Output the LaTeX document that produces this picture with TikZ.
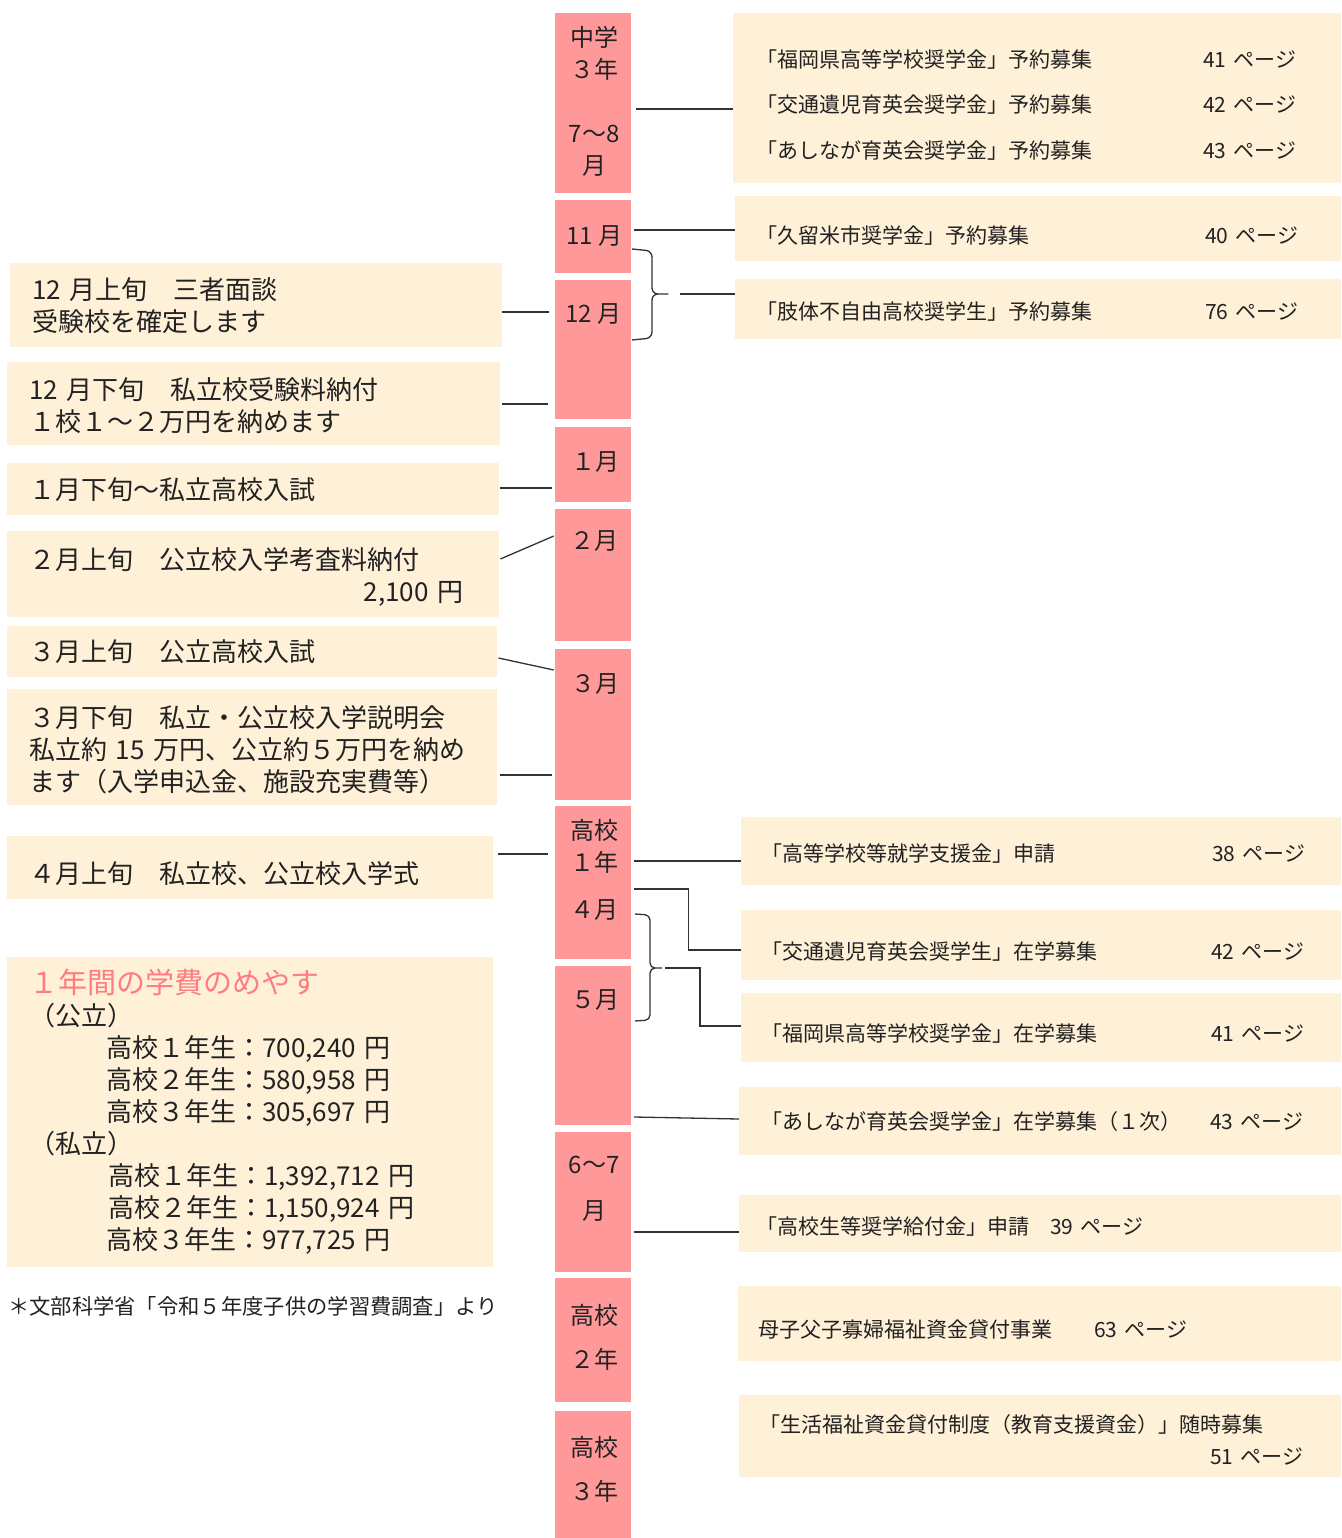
\documentclass[tikz,border=0pt]{standalone}
\usepackage{fontspec}
\setmainfont{Noto Sans CJK JP}
\definecolor{segpink}{RGB}{255,153,153}
\definecolor{boxcream}{RGB}{255,240,216}
\definecolor{headpink}{RGB}{255,124,128}
\definecolor{inkgray}{RGB}{34,34,34}
\tikzset{
  monthseg/.style={fill=segpink, minimum width=76pt, anchor=north, inner sep=0pt},
  monthtxt/.style={align=center, inner sep=0pt, text=inkgray, font=\fontsize{24}{32}\selectfont},
  leftbox/.style={fill=boxcream, anchor=north west, align=left, inner xsep=22pt, inner ysep=0pt,
    text=inkgray, font=\fontsize{26}{32}\selectfont},
  rightbox/.style={fill=boxcream, anchor=north west, align=left, inner xsep=20pt, inner ysep=0pt,
    text=inkgray, font=\fontsize{21}{32}\selectfont},
  link/.style={line width=1.3pt, black!80},
}
\begin{document}
\begin{tikzpicture}[x=1pt, y=-1pt]
    \useasboundingbox (0,0) rectangle (1341,1538);
    % timeline column
    \node[monthseg, minimum height=180pt] (m1) at (593,13) {};
    \node[monthseg, minimum height=73pt] (m2) at (593,200) {};
    \node[monthseg, minimum height=139pt] (m3) at (593,280) {};
    \node[monthseg, minimum height=75pt] (m4) at (593,427) {};
    \node[monthseg, minimum height=132pt] (m5) at (593,509) {};
    \node[monthseg, minimum height=151pt] (m6) at (593,649) {};
    \node[monthseg, minimum height=153pt] (m7) at (593,806) {};
    \node[monthseg, minimum height=159pt] (m8) at (593,966) {};
    \node[monthseg, minimum height=140pt] (m9) at (593,1132) {};
    \node[monthseg, minimum height=124pt] (m10) at (593,1278) {};
    \node[monthseg, minimum height=140pt] (m11) at (593,1411) {};
    \node[monthtxt] (t1) at (594,101) {中学\\３年\\[32pt]7〜8\\月};
    \node[monthtxt] (t2) at (594,236) {11 月};
    \node[monthtxt] (t3) at (593,314) {12 月};
    \node[monthtxt] (t4) at (595,462) {１月};
    \node[monthtxt] (t5) at (594,541) {２月};
    \node[monthtxt] (t6) at (595,684) {３月};
    \node[monthtxt] (t7) at (594,870) {高校\\１年\\[15pt]４月};
    \node[monthtxt] (t8) at (595,1000) {５月};
    \node[monthtxt] (t9) at (594,1189) {6〜7\\[14pt]月};
    \node[monthtxt] (t10) at (594,1337) {高校\\[12pt]２年};
    \node[monthtxt] (t11) at (594,1469) {高校\\[12pt]３年};
    % events on the left
    \node[leftbox, minimum height=84pt, text width=448pt] (l1) at (10,263)
        {12 月上旬　三者面談\\受験校を確定します};
    \node[leftbox, minimum height=83pt, text width=449pt, text height=26pt] (l2) at (7,362)
        {12 月下旬　私立校受験料納付\\１校１～２万円を納めます};
    \node[leftbox, minimum height=52pt, text width=448pt] (l3) at (7,463)
        {１月下旬～私立高校入試};
    \node[leftbox, minimum height=86pt, text width=448pt, text height=28pt] (l4) at (7,531)
        {２月上旬　公立校入学考査料納付\\\hspace*{\fill}2,100 円\hspace*{14pt}};
    \node[leftbox, minimum height=51pt, text width=446pt] (l5) at (7,626)
        {３月上旬　公立高校入試};
    \node[leftbox, minimum height=116pt, text width=446pt, text height=28pt] (l6) at (7,689)
        {３月下旬　私立・公立校入学説明会\\私立約 15 万円、公立約５万円を納め\\ます（入学申込金、施設充実費等）};
    \node[leftbox, minimum height=63pt, text width=442pt, text height=34pt] (l7) at (7,836)
        {４月上旬　私立校、公立校入学式};
    \node[leftbox, minimum height=310pt, text width=442pt] (l8) at (7,957)
        {\textcolor{headpink}{\fontsize{29}{32}\selectfont １年間の学費のめやす}\\
         （公立）\\
         \hspace*{77pt}高校１年生：700,240 円\\
         \hspace*{77pt}高校２年生：580,958 円\\
         \hspace*{77pt}高校３年生：305,697 円\\
         （私立）\\
         \hspace*{79pt}高校１年生：1,392,712 円\\
         \hspace*{79pt}高校２年生：1,150,924 円\\
         \hspace*{77pt}高校３年生：977,725 円};
    \node[anchor=west, inner sep=0pt, text=inkgray, font=\fontsize{21.3}{21}\selectfont] (note) at (8,1306)
        {＊文部科学省「令和５年度子供の学習費調査」より};
    % support schemes on the right
    \node[rightbox, minimum height=170pt, inner xsep=23pt, text width=562pt, text height=31pt,
        font=\fontsize{21}{45.5}\selectfont] (r1) at (733,13)
        {\makebox[447pt][l]{「福岡県高等学校奨学金」予約募集}41 ページ\\
         \makebox[447pt][l]{「交通遺児育英会奨学金」予約募集}42 ページ\\
         \makebox[447pt][l]{「あしなが育英会奨学金」予約募集}43 ページ};
    \node[rightbox, minimum height=65pt, inner xsep=21pt, text width=564pt, text height=32pt] (r2) at (735,196)
        {\makebox[449pt][l]{「久留米市奨学金」予約募集}40 ページ};
    \node[rightbox, minimum height=60pt, inner xsep=21pt, text width=564pt, text height=22pt] (r3) at (735,279)
        {\makebox[449pt][l]{「肢体不自由高校奨学生」予約募集}76 ページ};
    \node[rightbox, minimum height=68pt, text width=560pt, text height=22pt] (r4) at (741,817)
        {\makebox[451pt][l]{「高等学校等就学支援金」申請}38 ページ};
    \node[rightbox, minimum height=70pt, text width=560pt, text height=30pt] (r5) at (741,910)
        {\makebox[450pt][l]{「交通遺児育英会奨学生」在学募集}42 ページ};
    \node[rightbox, minimum height=69pt, text width=560pt, text height=30pt] (r6) at (741,993)
        {\makebox[450pt][l]{「福岡県高等学校奨学金」在学募集}41 ページ};
    \node[rightbox, minimum height=68pt, inner xsep=22pt, text width=558pt] (r7) at (739,1087)
        {\makebox[449pt][l]{「あしなが育英会奨学金」在学募集（１次）}43 ページ};
    \node[rightbox, minimum height=57pt, inner xsep=17pt, text width=568pt, text height=24pt] (r8) at (739,1195)
        {「高校生等奨学給付金」申請　39 ページ};
    \node[rightbox, minimum height=75pt, text width=563pt, text height=30pt] (r9) at (738,1286)
        {母子父子寡婦福祉資金貸付事業　　63 ページ};
    \node[rightbox, minimum height=82pt, text width=562pt, text height=26pt] (r10) at (739,1395)
        {「生活福祉資金貸付制度（教育支援資金）」随時募集\\\hspace*{451pt}51 ページ};
    % connectors, left side
    \draw[link] (l1.east |- 0,312) -- ([xshift=-6pt]m3.west |- 0,312);
    \draw[link] ([xshift=2pt]l2.east |- 0,404) -- ([xshift=-7pt]m3.west |- 0,404);
    \draw[link] ([xshift=1pt]l3.east |- 0,488) -- ([xshift=-3pt]m4.west |- 0,488);
    \draw[link] ([xshift=1pt]l4.east |- 0,559) -- ([xshift=-1pt]m5.west |- 0,536);
    \draw[link] ([xshift=1pt]l5.east |- 0,658) -- ([xshift=-1pt]m6.west |- 0,670);
    \draw[link] ([xshift=3pt]l6.east |- 0,775) -- ([xshift=-3pt]m6.west |- 0,775);
    \draw[link] ([xshift=5pt]l7.east |- 0,854) -- ([xshift=-7pt]m7.west |- 0,854);
    % connectors, right side
    \draw[link] ([xshift=5pt]m1.east |- 0,109) -- (r1.west |- 0,109);
    \draw[link] ([xshift=3pt]m2.east |- 0,230) -- (r2.west |- 0,230);
    \draw[link, rounded corners=6pt] (632,249) -- (652,251) -- (652,294) -- (672,294)
        coordinate (b1) -- (652,294) -- (652,338) -- (632,340);
    \draw[link] ([xshift=8pt]b1) -- (r3.west |- b1);
    \draw[link] ([xshift=3pt]m7.east |- 0,861) -- (r4.west |- 0,861);
    \draw[link] ([xshift=3pt]m7.east |- 0,889) -- ++(54,0) |- (r5.west |- 0,950);
    \draw[link, rounded corners=5pt] (635,914) -- (650,915) -- (650,968) -- (665,968)
        coordinate (b2) -- (650,968) -- (650,1020) -- (635,1021);
    \draw[link] (b2) -- ++(35,0) |- (r6.west |- 0,1026);
    \draw[link] ([xshift=3pt]m8.east |- 0,1117) -- (r7.west |- 0,1119);
    \draw[link] ([xshift=3pt]m9.east |- 0,1232) -- (r8.west |- 0,1232);
\end{tikzpicture}
\end{document}
